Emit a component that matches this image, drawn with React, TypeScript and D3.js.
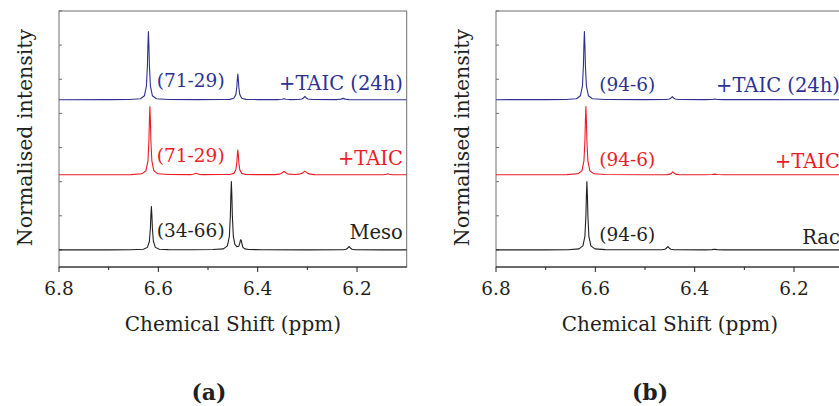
import React from "react";
import * as d3 from "d3";

// ---------- data ----------
const X_MAJOR = [6.8, 6.6, 6.4, 6.2];
const X_MINOR = [6.7, 6.5, 6.3];
const Y_TICKS = [0, 1, 2, 3, 4, 5, 6, 7];
const OFFSETS = [0, 2.2, 4.4]; // untreated, +TAIC, +TAIC (24h)

const LEFT_MESO: [number, number][] = [
  [6.8, 0.002], [6.7, 0.003], [6.655, 0.005], [6.63, 0.019], [6.622, 0.075], [6.618, 0.254],
  [6.616, 0.635], [6.615, 1.02], [6.614, 1.27], [6.613, 1.02], [6.612, 0.635], [6.61, 0.254],
  [6.606, 0.075], [6.598, 0.02], [6.58, 0.008], [6.53, 0.006], [6.49, 0.012], [6.469, 0.03],
  [6.461, 0.118], [6.457, 0.4], [6.455, 1.0], [6.454, 1.6], [6.453, 2.0], [6.452, 1.6],
  [6.451, 1.0], [6.449, 0.4], [6.446, 0.16], [6.442, 0.095], [6.438, 0.11], [6.436, 0.2],
  [6.435, 0.27], [6.434, 0.3], [6.433, 0.27], [6.432, 0.2], [6.43, 0.08], [6.426, 0.03],
  [6.418, 0.012], [6.39, 0.005], [6.3, 0.003], [6.228, 0.006], [6.222, 0.02], [6.219, 0.05],
  [6.216, 0.1], [6.213, 0.05], [6.21, 0.02], [6.204, 0.006], [6.15, 0.002], [6.1, 0.002],
];
const LEFT_TAIC: [number, number][] = [
  [6.8, 0.002], [6.7, 0.003], [6.655, 0.006], [6.633, 0.03], [6.625, 0.118], [6.621, 0.4],
  [6.619, 1.0], [6.618, 1.6], [6.617, 2.0], [6.616, 1.6], [6.615, 1.0], [6.613, 0.4],
  [6.609, 0.118], [6.601, 0.03], [6.58, 0.008], [6.535, 0.005], [6.53, 0.015], [6.527, 0.03],
  [6.524, 0.05], [6.521, 0.03], [6.518, 0.015], [6.51, 0.006], [6.475, 0.008], [6.456, 0.011],
  [6.448, 0.043], [6.444, 0.146], [6.442, 0.365], [6.441, 0.584], [6.44, 0.73], [6.439, 0.584],
  [6.438, 0.365], [6.436, 0.146], [6.432, 0.043], [6.424, 0.011], [6.4, 0.005], [6.365, 0.005],
  [6.356, 0.02], [6.352, 0.045], [6.347, 0.1], [6.342, 0.045], [6.337, 0.02], [6.325, 0.008],
  [6.317, 0.02], [6.31, 0.05], [6.305, 0.11], [6.3, 0.05], [6.294, 0.02], [6.285, 0.006],
  [6.2, 0.003], [6.146, 0.004], [6.141, 0.015], [6.138, 0.03], [6.135, 0.015], [6.13, 0.004],
  [6.1, 0.002],
];
const LEFT_TAIC24: [number, number][] = [
  [6.8, 0.002], [6.7, 0.003], [6.658, 0.006], [6.636, 0.03], [6.628, 0.118], [6.624, 0.4],
  [6.622, 1.0], [6.621, 1.6], [6.62, 2.0], [6.619, 1.6], [6.618, 1.0], [6.616, 0.4],
  [6.612, 0.118], [6.604, 0.03], [6.58, 0.008], [6.52, 0.005], [6.475, 0.008], [6.456, 0.011],
  [6.448, 0.044], [6.444, 0.15], [6.442, 0.375], [6.441, 0.6], [6.44, 0.75], [6.439, 0.6],
  [6.438, 0.375], [6.436, 0.15], [6.432, 0.044], [6.424, 0.011], [6.4, 0.005], [6.358, 0.005],
  [6.351, 0.015], [6.347, 0.03], [6.343, 0.015], [6.336, 0.005], [6.318, 0.008], [6.311, 0.02],
  [6.308, 0.05], [6.305, 0.1], [6.302, 0.05], [6.299, 0.02], [6.29, 0.006], [6.24, 0.005],
  [6.232, 0.018], [6.228, 0.04], [6.224, 0.018], [6.216, 0.004], [6.1, 0.002],
];
const RIGHT_RAC: [number, number][] = [
  [6.8, 0.002], [6.7, 0.003], [6.655, 0.006], [6.633, 0.03], [6.625, 0.118], [6.621, 0.4],
  [6.619, 1.0], [6.618, 1.6], [6.617, 2.0], [6.616, 1.6], [6.615, 1.0], [6.613, 0.4],
  [6.609, 0.118], [6.601, 0.03], [6.58, 0.008], [6.5, 0.004], [6.466, 0.006], [6.46, 0.02],
  [6.457, 0.05], [6.454, 0.1], [6.451, 0.05], [6.448, 0.02], [6.442, 0.006], [6.38, 0.003],
  [6.365, 0.008], [6.36, 0.02], [6.355, 0.008], [6.34, 0.003], [6.1, 0.002],
];
const RIGHT_TAIC: [number, number][] = [
  [6.8, 0.002], [6.7, 0.003], [6.657, 0.006], [6.635, 0.03], [6.627, 0.118], [6.623, 0.4],
  [6.621, 1.0], [6.62, 1.6], [6.619, 2.0], [6.618, 1.6], [6.617, 1.0], [6.615, 0.4],
  [6.611, 0.118], [6.603, 0.03], [6.58, 0.008], [6.5, 0.004], [6.456, 0.006], [6.45, 0.02],
  [6.447, 0.045], [6.444, 0.09], [6.441, 0.045], [6.438, 0.02], [6.432, 0.006], [6.38, 0.003],
  [6.365, 0.008], [6.36, 0.02], [6.355, 0.008], [6.34, 0.003], [6.1, 0.002],
];
const RIGHT_TAIC24: [number, number][] = [
  [6.8, 0.002], [6.7, 0.003], [6.66, 0.006], [6.638, 0.03], [6.63, 0.118], [6.626, 0.4],
  [6.624, 1.0], [6.623, 1.6], [6.622, 2.0], [6.621, 1.6], [6.62, 1.0], [6.618, 0.4],
  [6.614, 0.118], [6.606, 0.03], [6.58, 0.008], [6.5, 0.004], [6.457, 0.006], [6.451, 0.02],
  [6.448, 0.045], [6.445, 0.09], [6.442, 0.045], [6.439, 0.02], [6.433, 0.006], [6.38, 0.003],
  [6.365, 0.008], [6.36, 0.02], [6.355, 0.008], [6.34, 0.003], [6.1, 0.002],
];

const LEFT_RATIOS = ["(34-66)", "(71-29)", "(71-29)"];
const RIGHT_RATIOS = ["(94-6)", "(94-6)", "(94-6)"];
const LEFT_SAMPLES = ["Meso", "+TAIC", "+TAIC (24h)"];
const RIGHT_SAMPLES = ["Rac", "+TAIC", "+TAIC (24h)"];
const COLORS = ["#231f20", "#ed1c24", "#2e3192"];

// ---------- layout ----------
const W = 839;
const H = 406;
const PLOT_W = 347.7;
const TOP = 11;
const BOTTOM = 267;
const FONT = "'DejaVu Serif', serif";

type PanelProps = {
  x0: number;
  spectra: [number, number][][];
  ratios: string[];
  samples: string[];
  ratioX: number;
  ratioDy: number;
  sampleDy: number[];
  tag: string;
  tagX: number;
};

function Panel({ x0, spectra, ratios, samples, ratioX, ratioDy, sampleDy, tag, tagX }: PanelProps) {
  const x = d3.scaleLinear().domain([6.8, 6.1]).range([x0, x0 + PLOT_W]);
  const y = d3.scaleLinear().domain([-0.5, 7]).range([BOTTOM, TOP]);
  const clipId = `clip-${tag.replace(/[()]/g, "")}`;
  return (
    <g>
      <defs>
        <clipPath id={clipId}>
          <rect x={x0} y={TOP} width={PLOT_W} height={BOTTOM - TOP} />
        </clipPath>
      </defs>
      {/* frame */}
      <rect x={x0} y={TOP} width={PLOT_W} height={BOTTOM - TOP} fill="none" stroke="#6d6e71" strokeWidth={1} />
      <line x1={x0} x2={x0 + PLOT_W} y1={BOTTOM} y2={BOTTOM} stroke="#231f20" strokeWidth={1.2} />
      {/* y ticks (inward) */}
      {Y_TICKS.map((t) => (
        <line key={`yt${t}`} x1={x0} x2={x0 + 3} y1={y(t)} y2={y(t)} stroke="#6d6e71" strokeWidth={1} />
      ))}
      {/* x ticks (outward) */}
      {X_MAJOR.map((t) => (
        <line key={`xm${t}`} x1={x(t)} x2={x(t)} y1={BOTTOM} y2={BOTTOM + 5} stroke="#231f20" strokeWidth={1} />
      ))}
      {X_MINOR.map((t) => (
        <line key={`xn${t}`} x1={x(t)} x2={x(t)} y1={BOTTOM} y2={BOTTOM + 3} stroke="#231f20" strokeWidth={1} />
      ))}
      {X_MAJOR.map((t) => (
        <text key={`xl${t}`} x={x(t)} y={294.5} textAnchor="middle" fontFamily={FONT} fontSize={18.5} fill="#231f20">
          {t.toFixed(1)}
        </text>
      ))}
      {/* spectra */}
      <g clipPath={`url(#${clipId})`}>
        {spectra.map((s, i) => {
          const line = d3
            .line<[number, number]>()
            .x((d) => x(d[0]))
            .y((d) => y(d[1] + OFFSETS[i]));
          return <path key={`s${i}`} d={line(s) || ""} fill="none" stroke={COLORS[i]} strokeWidth={1.1} strokeLinejoin="round" />;
        })}
      </g>
      {/* annotations */}
      {ratios.map((r, i) => (
        <text key={`r${i}`} x={x(ratioX)} y={y(OFFSETS[i] + ratioDy)} fontFamily={FONT} fontSize={18.5} fill={COLORS[i]}>
          {r}
        </text>
      ))}
      {samples.map((s, i) => (
        <text key={`sm${i}`} x={x(6.1077)} y={y(OFFSETS[i] + sampleDy[i])} textAnchor="end" fontFamily={FONT} fontSize={19.5} fill={COLORS[i]}>
          {s}
        </text>
      ))}
      {/* axis titles */}
      <text x={x0 + PLOT_W / 2} y={330.5} textAnchor="middle" fontFamily={FONT} fontSize={20} fill="#231f20">
        Chemical Shift (ppm)
      </text>
      <text
        transform={`translate(${x0 - 27},137.5) rotate(-90)`}
        textAnchor="middle"
        fontFamily={FONT}
        fontSize={20.5}
        fill="#231f20"
      >
        Normalised intensity
      </text>
      <text x={tagX} y={400} textAnchor="middle" fontFamily={FONT} fontSize={22} fontWeight="bold" fill="#231f20">
        {tag}
      </text>
    </g>
  );
}

export default function App() {
  return (
    <svg width={W} height={H} style={{ position: "absolute", left: 0, top: 0, background: "#fff" }}>
      <rect width={W} height={H} fill="#fff" />
      <Panel
        x0={59}
        spectra={[LEFT_MESO, LEFT_TAIC, LEFT_TAIC24]}
        ratios={LEFT_RATIOS}
        samples={LEFT_SAMPLES}
        ratioX={6.603}
        ratioDy={0.37}
        sampleDy={[0.32, 0.29, 0.3]}
        tag="(a)"
        tagX={209}
      />
      <Panel
        x0={496}
        spectra={[RIGHT_RAC, RIGHT_TAIC, RIGHT_TAIC24]}
        ratios={RIGHT_RATIOS}
        samples={RIGHT_SAMPLES}
        ratioX={6.592}
        ratioDy={0.25}
        sampleDy={[0.18, 0.2, 0.23]}
        tag="(b)"
        tagX={650}
      />
    </svg>
  );
}
